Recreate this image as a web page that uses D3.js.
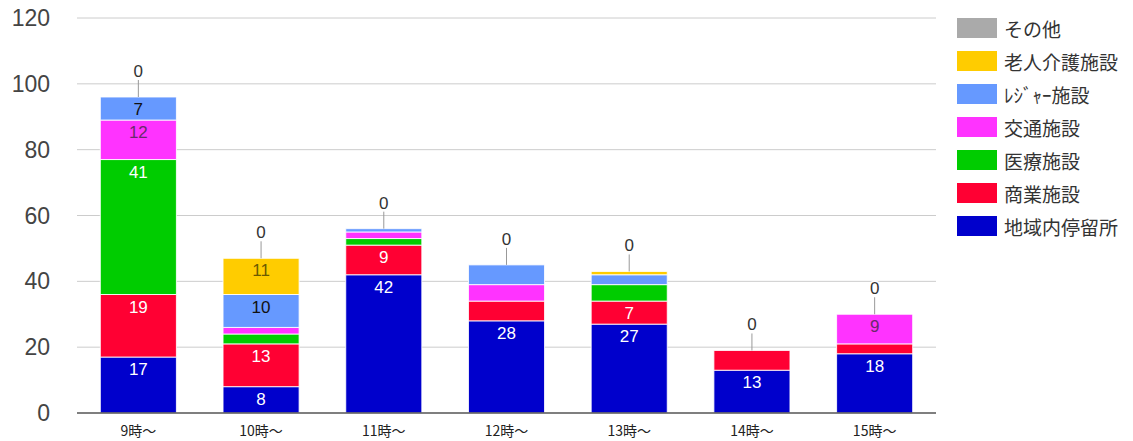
<!DOCTYPE html>
<html>
<head>
<meta charset="utf-8">
<script src="https://cdn.jsdelivr.net/npm/d3@7"></script>
<style>
  html, body { margin: 0; padding: 0; background: #fff; }
  svg { display: block; }
</style>
</head>
<body>
<div id="chart"></div>
<script>
// ── Data ────────────────────────────────────────────────────────────────
const CATEGORIES = ['9時〜', '10時〜', '11時〜', '12時〜', '13時〜', '14時〜', '15時〜'];

// bottom → top stacking order
const SERIES = ['地域内停留所', '商業施設', '医療施設', '交通施設', 'ﾚｼﾞｬｰ施設', '老人介護施設', 'その他'];

const chiiki  = [17,  8, 42, 28, 27, 13, 18];
const shogyo  = [19, 13,  9,  6,  7,  6,  3];
const iryo    = [41,  3,  2,  0,  5,  0,  0];
const kotsu   = [12,  2,  2,  5,  0,  0,  9];
const leisure = [ 7, 10,  1,  6,  3,  0,  0];
const rojin   = [ 0, 11,  0,  0,  1,  0,  0];
const sonota  = [ 0,  0,  0,  0,  0,  0,  0];

const Y_TICKS = [0, 20, 40, 60, 80, 100, 120];

const COLORS = {
  '地域内停留所': '#0000cc',
  '商業施設':     '#ff0033',
  '医療施設':     '#00cc00',
  '交通施設':     '#ff33ff',
  'ﾚｼﾞｬｰ施設':    '#6699ff',
  '老人介護施設': '#ffcc00',
  'その他':       '#aaaaaa',
};
// label colour inside each series
const TEXT_COLORS = {
  '地域内停留所': '#ffffff',
  '商業施設':     '#ffffff',
  '医療施設':     '#ffffff',
  '交通施設':     '#6a2a6a',
  'ﾚｼﾞｬｰ施設':    '#111111',
  '老人介護施設': '#6b5a00',
  'その他':       '#333333',
};

// ── Table ───────────────────────────────────────────────────────────────
const columns = [chiiki, shogyo, iryo, kotsu, leisure, rojin, sonota];
const rows = CATEGORIES.map((c, i) => {
  const r = { cat: c };
  SERIES.forEach((s, j) => { r[s] = columns[j][i]; });
  return r;
});

// ── Layout ──────────────────────────────────────────────────────────────
const W = 1133, H = 441;
const plot = { left: 77, right: 936, top: 18, bottom: 413 };

const svg = d3.select('#chart').append('svg')
  .attr('width', W).attr('height', H);

const x = d3.scaleBand()
  .domain(CATEGORIES)
  .range([plot.left, plot.right])
  .paddingInner(0.38)
  .paddingOuter(0.19);

const y = d3.scaleLinear()
  .domain([0, 120])
  .range([plot.bottom, plot.top]);

// gridlines
svg.append('g')
  .selectAll('line').data(Y_TICKS.filter(t => t > 0)).join('line')
  .attr('x1', plot.left).attr('x2', plot.right)
  .attr('y1', d => y(d)).attr('y2', d => y(d))
  .attr('stroke', '#cccccc').attr('stroke-width', 1);

// y tick labels
svg.append('g')
  .selectAll('text').data(Y_TICKS).join('text')
  .attr('x', 50)
  .attr('y', d => y(d))
  .attr('text-anchor', 'end')
  .attr('dominant-baseline', 'central')
  .attr('fill', '#444')
  .style('font-family', '"Liberation Sans", Arial, sans-serif')
  .style('font-size', '23px')
  .text(d => d);

// ── Bars ────────────────────────────────────────────────────────────────
const stacked = d3.stack().keys(SERIES)(rows);

const layers = svg.append('g')
  .selectAll('g').data(stacked).join('g')
  .attr('fill', d => COLORS[d.key]);

layers.selectAll('rect')
  .data(d => d.map(p => ({ key: d.key, cat: p.data.cat, y0: p[0], y1: p[1] })).filter(p => p.y1 > p.y0))
  .join('rect')
  .attr('x', d => x(d.cat))
  .attr('width', x.bandwidth())
  .attr('y', d => y(d.y1))
  .attr('height', d => y(d.y0) - y(d.y1))
  .attr('stroke', '#ffffff')
  .attr('stroke-opacity', 0.85)
  .attr('stroke-width', 1);

// inside labels (only where segment fits)
const MIN_LABEL_PX = 22;
const labelData = stacked.flatMap(layer =>
  layer.map(p => ({ key: layer.key, cat: p.data.cat, v: p[1] - p[0], y1: p[1], y0: p[0] })))
  .filter(d => y(d.y0) - y(d.y1) >= MIN_LABEL_PX);

svg.append('g')
  .selectAll('text').data(labelData).join('text')
  .attr('x', d => x(d.cat) + x.bandwidth() / 2)
  .attr('y', d => y(d.y1) + 18)
  .attr('text-anchor', 'middle')
  .attr('fill', d => TEXT_COLORS[d.key])
  .style('font-family', '"Liberation Sans", Arial, sans-serif')
  .style('font-size', '17px')
  .text(d => d.v);

// top "その他" annotation with stem
const totals = rows.map(r => ({ cat: r.cat, total: d3.sum(SERIES, s => r[s]), v: r['その他'] }));
const topNotes = svg.append('g');
topNotes.selectAll('line').data(totals).join('line')
  .attr('x1', d => x(d.cat) + x.bandwidth() / 2)
  .attr('x2', d => x(d.cat) + x.bandwidth() / 2)
  .attr('y1', d => y(d.total))
  .attr('y2', d => y(d.total) - 17)
  .attr('stroke', '#999').attr('stroke-width', 1);
topNotes.selectAll('text').data(totals).join('text')
  .attr('x', d => x(d.cat) + x.bandwidth() / 2)
  .attr('y', d => y(d.total) - 20)
  .attr('text-anchor', 'middle')
  .attr('fill', '#333')
  .attr('stroke', '#fff').attr('stroke-width', 3).attr('paint-order', 'stroke')
  .style('font-family', '"Liberation Sans", Arial, sans-serif')
  .style('font-size', '17px')
  .text(d => d.v);

// baseline
svg.append('line')
  .attr('x1', plot.left).attr('x2', plot.right)
  .attr('y1', y(0)).attr('y2', y(0))
  .attr('stroke', '#555').attr('stroke-width', 1.5);

// x labels
svg.append('g')
  .selectAll('text').data(CATEGORIES).join('text')
  .attr('x', d => x(d) + x.bandwidth() / 2)
  .attr('y', 430)
  .attr('text-anchor', 'middle')
  .attr('dominant-baseline', 'central')
  .attr('fill', '#222')
  .style('font-family', '"Noto Sans CJK JP", sans-serif')
  .style('font-size', '14px')
  .text(d => d);

// ── Legend ──────────────────────────────────────────────────────────────
const legendItems = SERIES.slice().reverse();
const legend = svg.append('g')
  .selectAll('g').data(legendItems).join('g')
  .attr('transform', (d, i) => `translate(957, ${28 + i * 33})`);

legend.append('rect')
  .attr('x', 0).attr('y', -10)
  .attr('width', 40).attr('height', 20)
  .attr('fill', d => COLORS[d]);

legend.append('text')
  .attr('x', 47).attr('y', 0)
  .attr('dominant-baseline', 'central')
  .attr('fill', '#333')
  .style('font-family', '"Noto Sans CJK JP", sans-serif')
  .style('font-size', '19px')
  .text(d => d);
</script>
</body>
</html>
